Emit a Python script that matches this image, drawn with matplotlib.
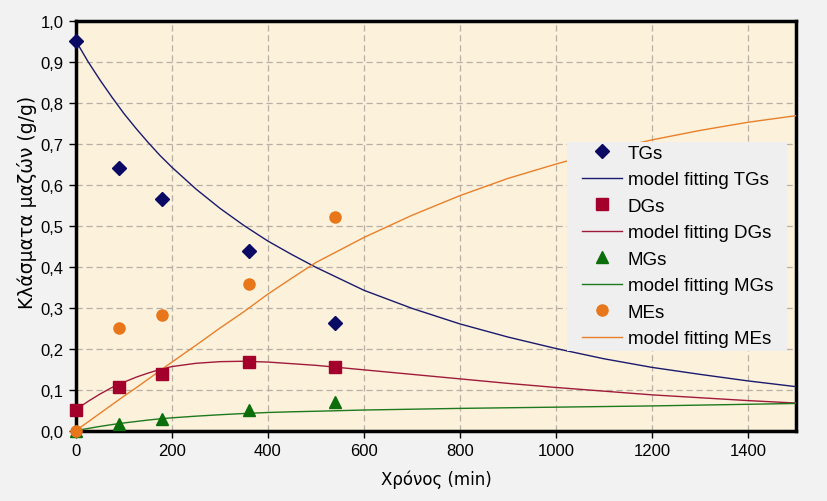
import matplotlib
matplotlib.use("Agg")
import matplotlib.pyplot as plt
from matplotlib.ticker import MultipleLocator, FuncFormatter
from matplotlib.patches import Rectangle

# Measured data points
t_obs = [0, 90, 180, 360, 540]
tgs = [0.95, 0.64, 0.565, 0.438, 0.262]
dgs = [0.051, 0.106, 0.138, 0.167, 0.156]
mgs = [0.0, 0.016, 0.028, 0.049, 0.069]
mes = [0.0, 0.25, 0.282, 0.357, 0.521]

# Model fitting curves
t_fit = [0, 25, 50, 75, 100, 125, 150, 175, 200, 250, 300, 350, 400, 450, 500,
         600, 700, 800, 900, 1000, 1100, 1200, 1300, 1400, 1500]
tgs_fit = [0.95, 0.90, 0.855, 0.813, 0.773, 0.737, 0.703, 0.671, 0.642, 0.589,
           0.542, 0.500, 0.462, 0.429, 0.398, 0.342, 0.298, 0.26, 0.228, 0.200,
           0.175, 0.154, 0.137, 0.121, 0.107]
dgs_fit = [0.051, 0.071, 0.089, 0.105, 0.118, 0.130, 0.140, 0.149, 0.156, 0.164,
           0.168, 0.169, 0.167, 0.163, 0.159, 0.148, 0.137, 0.126, 0.115, 0.105,
           0.096, 0.087, 0.080, 0.073, 0.067]
mgs_fit = [0.0, 0.005, 0.01, 0.0145, 0.0185, 0.022, 0.0255, 0.0285, 0.031, 0.035,
           0.0385, 0.0415, 0.044, 0.0457, 0.047, 0.05, 0.052, 0.054, 0.0555, 0.057,
           0.0585, 0.060, 0.062, 0.064, 0.066]
mes_fit = [0.0, 0.021, 0.042, 0.063, 0.084, 0.104, 0.125, 0.146, 0.167, 0.208,
           0.25, 0.29, 0.333, 0.372, 0.41, 0.471, 0.525, 0.573, 0.615, 0.65,
           0.682, 0.709, 0.732, 0.752, 0.768]

labels = ["TGs", "model fitting TGs", "DGs", "model fitting DGs",
          "MGs", "model fitting MGs", "MEs", "model fitting MEs"]

plt.rcParams['font.family'] = ['Liberation Sans', 'DejaVu Sans']

fig = plt.figure(figsize=(8.27, 5.02), dpi=100, facecolor='#f2f2f2')
ax = fig.add_axes([0.0919, 0.1404, 0.8706, 0.8166])
ax.set_facecolor('#fcf1db')

c_tg, c_dg, c_mg, c_me = '#0a0a64', '#a3002b', '#0b6e0b', '#e8761a'
l_tg, l_dg, l_mg, l_me = '#1a1a6e', '#a01b3a', '#1d7a1d', '#e8802a'

ax.plot(t_obs, tgs, linestyle='none', marker='D', ms=7.5, color=c_tg, label=labels[0], zorder=5, clip_on=False)
ax.plot(t_fit, tgs_fit, color=l_tg, lw=1.0, label=labels[1], zorder=4)
ax.plot(t_obs, dgs, linestyle='none', marker='s', ms=8.5, color=c_dg, label=labels[2], zorder=5, clip_on=False)
ax.plot(t_fit, dgs_fit, color=l_dg, lw=1.0, label=labels[3], zorder=4)
ax.plot(t_obs, mgs, linestyle='none', marker='^', ms=8, color=c_mg, label=labels[4], zorder=5, clip_on=False)
ax.plot(t_fit, mgs_fit, color=l_mg, lw=1.0, label=labels[5], zorder=4)
ax.plot(t_obs, mes, linestyle='none', marker='o', ms=8, color=c_me, label=labels[6], zorder=6, clip_on=False)
ax.plot(t_fit, mes_fit, color=l_me, lw=1.0, label=labels[7], zorder=4)

ax.set_xlim(0, 1500)
ax.set_ylim(0, 1.0)
ax.xaxis.set_major_locator(MultipleLocator(200))
ax.yaxis.set_major_locator(MultipleLocator(0.1))
ax.yaxis.set_major_formatter(FuncFormatter(lambda v, p: f"{v:.1f}".replace('.', ',')))
ax.grid(True, color='#b8b0a4', linestyle=(0, (5, 3)), linewidth=0.9)
ax.set_axisbelow(True)
for s in ax.spines.values():
    s.set_linewidth(2.5)
    s.set_color('black')
ax.tick_params(axis='both', direction='out', length=5, width=1, labelsize=12, colors='black', pad=4)

ax.set_xlabel("Χρόνος (min)", fontsize=12, family=['DejaVu Sans'], labelpad=8)
ax.set_ylabel("Κλάσματα μαζών (g/g)", fontsize=13.5, family=['DejaVu Sans'])
ax.yaxis.set_label_coords(-0.054, 0.56)

# legend background box
ax.add_patch(Rectangle((0.682, 0.194), 0.3055, 0.5097, transform=ax.transAxes,
                       facecolor='#efefef', edgecolor='none', zorder=6.5))
leg = ax.legend(loc='upper left', bbox_to_anchor=(0.7028, 0.697), frameon=False,
                fontsize=13.5, handlelength=2.15, handletextpad=0.28, labelspacing=0.5,
                borderpad=0, borderaxespad=0)
leg.set_zorder(7)

fig.savefig("out.png", dpi=100, facecolor=fig.get_facecolor())
